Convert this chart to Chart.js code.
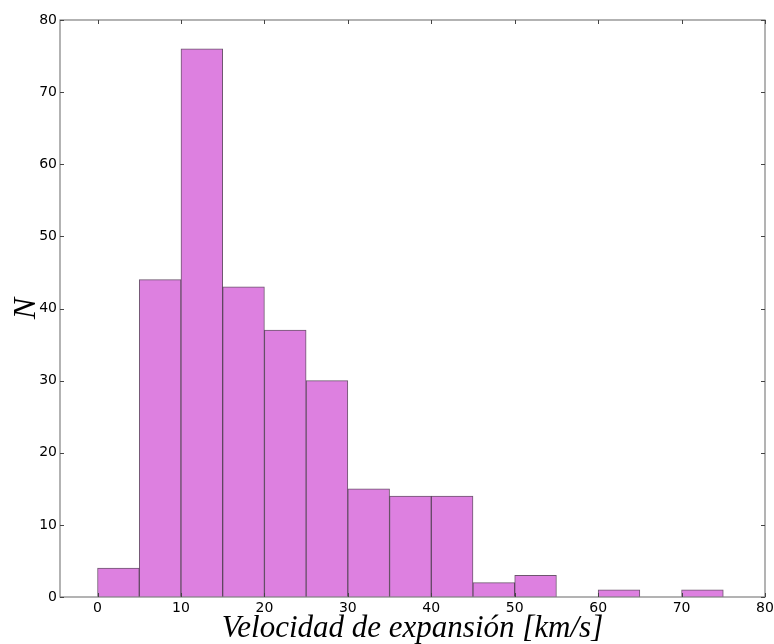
<!DOCTYPE html>
<html>
<head>
<meta charset="utf-8">
<script src="https://cdn.jsdelivr.net/npm/chart.js@4"></script>
<style>
  html, body { margin: 0; padding: 0; background: #fff; }
  #wrap { width: 774px; height: 644px; position: relative; }
</style>
</head>
<body>
<div id="wrap"><canvas id="c" width="774" height="644"></canvas></div>
<script>
// histograma de velocidades de expansión, bins de 5 km/s
var binStarts = [0, 5, 10, 15, 20, 25, 30, 35, 40, 45, 50, 55, 60, 65, 70];
var counts = [4, 44, 76, 43, 37, 30, 15, 14, 14, 2, 3, 0, 1, 0, 1];
var binWidth = 5;
var xTicks = [0, 10, 20, 30, 40, 50, 60, 70, 80];
var yTicks = [0, 10, 20, 30, 40, 50, 60, 70, 80];
var xLabel = "Velocidad de expansión [km/s]";
var yLabel = "N";

var points = binStarts.map(function (s, i) { return { x: s + binWidth / 2, y: counts[i] }; });

// marco y marcas hacia dentro, como matplotlib
var framePlugin = {
    id: "frame",
    afterDraw: function (chart) {
        var ctx = chart.ctx;
        var a = chart.chartArea;
        var xs = chart.scales.x, ys = chart.scales.y;
        ctx.save();
        ctx.strokeStyle = "#808080";
        ctx.lineWidth = 1.2;
        ctx.strokeRect(a.left, a.top, a.right - a.left, a.bottom - a.top);
        ctx.strokeStyle = "#444";
        ctx.lineWidth = 1;
        var len = 4;
        ctx.beginPath();
        xTicks.forEach(function (v) {
            var px = Math.round(xs.getPixelForValue(v)) + 0.5;
            ctx.moveTo(px, a.bottom); ctx.lineTo(px, a.bottom - len);
            ctx.moveTo(px, a.top); ctx.lineTo(px, a.top + len);
        });
        yTicks.forEach(function (v) {
            var py = Math.round(ys.getPixelForValue(v)) + 0.5;
            ctx.moveTo(a.left, py); ctx.lineTo(a.left + len, py);
            ctx.moveTo(a.right, py); ctx.lineTo(a.right - len, py);
        });
        ctx.stroke();
        ctx.restore();
    }
};

var chart = new Chart(document.getElementById("c").getContext("2d"), {
    type: "bar",
    data: {
        datasets: [{
            data: points,
            backgroundColor: "#dd80e0",
            borderColor: "rgba(60,30,62,0.75)",
            borderWidth: 1,
            barPercentage: 1,
            categoryPercentage: 1,
            borderSkipped: "bottom"
        }]
    },
    options: {
        responsive: false,
        animation: false,
        devicePixelRatio: 1,
        layout: { padding: { left: 0, top: 20, right: 0, bottom: 0 } },
        plugins: { legend: { display: false }, tooltip: { enabled: false } },
        scales: {
            x: {
                type: "linear",
                min: -4.5,
                max: 80,
                offset: false,
                grid: { display: false, drawTicks: false },
                border: { display: false },
                afterBuildTicks: function (scale) { scale.ticks = xTicks.map(function (v) { return { value: v }; }); },
                ticks: { color: "#000", font: { family: "DejaVu Sans", size: 14 }, padding: 3, maxRotation: 0, autoSkip: false },
                title: {
                    display: true, text: xLabel, color: "#000",
                    font: { family: "Liberation Serif", style: "italic", size: 31, lineHeight: 0.85 },
                    padding: { top: 0, bottom: 2 }
                },
                afterFit: function (scale) { scale.height = 47; scale.paddingRight = 9; }
            },
            y: {
                min: 0,
                max: 80,
                grid: { display: false, drawTicks: false },
                border: { display: false },
                afterBuildTicks: function (scale) { scale.ticks = yTicks.map(function (v) { return { value: v }; }); },
                ticks: { color: "#000", font: { family: "DejaVu Sans", size: 14 }, padding: 3, autoSkip: false },
                title: {
                    display: true, text: yLabel, color: "#000",
                    font: { family: "Liberation Serif", style: "italic", size: 32 },
                    padding: { top: 7, bottom: 4 }
                },
                afterFit: function (scale) { scale.width = 60; }
            }
        }
    },
    plugins: [framePlugin]
});
</script>
</body>
</html>
